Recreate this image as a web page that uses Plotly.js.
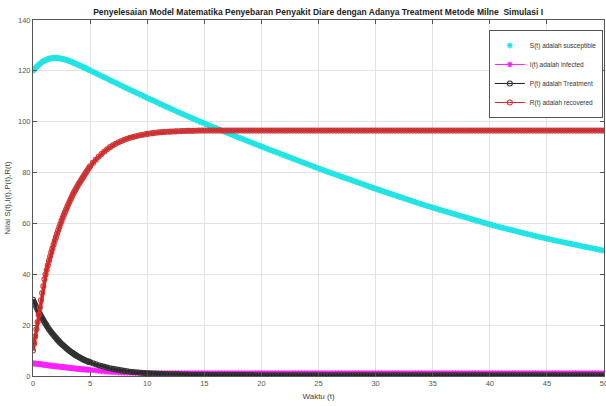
<!DOCTYPE html>
<html><head><meta charset="utf-8">
<script src="https://cdn.plot.ly/plotly-3.0.1.min.js"></script>
<style>html,body{margin:0;padding:0;background:#fff}#chart{width:606px;height:406px}</style>
</head><body><div id="chart"></div>
<script>
// time: dense part 0..5 (step 0.1), then 5.25..50 (step 0.25)
var tA = [0,0.1,0.2,0.3,0.4,0.5,0.6,0.7,0.8,0.9,
  1,1.1,1.2,1.3,1.4,1.5,1.6,1.7,1.8,1.9,
  2,2.1,2.2,2.3,2.4,2.5,2.6,2.7,2.8,2.9,
  3,3.1,3.2,3.3,3.4,3.5,3.6,3.7,3.8,3.9,
  4,4.1,4.2,4.3,4.4,4.5,4.6,4.7,4.8,4.9,
  5];
var tB = [5.25,5.5,5.75,6,6.25,6.5,6.75,7,7.25,7.5,7.75,8,8.25,8.5,8.75,9,9.25,9.5,9.75,10,
  10.25,10.5,10.75,11,11.25,11.5,11.75,12,12.25,12.5,12.75,13,13.25,13.5,13.75,14,14.25,14.5,14.75,15,
  15.25,15.5,15.75,16,16.25,16.5,16.75,17,17.25,17.5,17.75,18,18.25,18.5,18.75,19,19.25,19.5,19.75,20,
  20.25,20.5,20.75,21,21.25,21.5,21.75,22,22.25,22.5,22.75,23,23.25,23.5,23.75,24,24.25,24.5,24.75,25,
  25.25,25.5,25.75,26,26.25,26.5,26.75,27,27.25,27.5,27.75,28,28.25,28.5,28.75,29,29.25,29.5,29.75,30,
  30.25,30.5,30.75,31,31.25,31.5,31.75,32,32.25,32.5,32.75,33,33.25,33.5,33.75,34,34.25,34.5,34.75,35,
  35.25,35.5,35.75,36,36.25,36.5,36.75,37,37.25,37.5,37.75,38,38.25,38.5,38.75,39,39.25,39.5,39.75,40,
  40.25,40.5,40.75,41,41.25,41.5,41.75,42,42.25,42.5,42.75,43,43.25,43.5,43.75,44,44.25,44.5,44.75,45,
  45.25,45.5,45.75,46,46.25,46.5,46.75,47,47.25,47.5,47.75,48,48.25,48.5,48.75,49,49.25,49.5,49.75,50];

var S_A = [120.0,120.6,121.1,121.6,122.0,122.4,122.8,123.1,123.5,123.8,
  124.0,124.2,124.4,124.6,124.8,124.9,125.0,125.0,125.1,125.1,
  125.1,125.1,125.0,125.0,124.9,124.8,124.7,124.6,124.5,124.3,
  124.2,124.0,123.8,123.7,123.5,123.3,123.1,122.9,122.7,122.5,
  122.3,122.1,121.9,121.7,121.5,121.3,121.1,120.9,120.6,120.4,
  120.2];
var S_B = [119.65,119.1,118.55,118.0,117.45,116.9,116.35,115.8,115.25,114.7,114.15,113.6,113.05,112.5,111.95,111.4,110.9,110.4,109.85,109.3,
  108.8,108.3,107.75,107.2,106.7,106.2,105.7,105.2,104.7,104.2,103.7,103.2,102.7,102.2,101.7,101.2,100.7,100.2,99.75,99.3,
  98.8,98.3,97.85,97.4,96.95,96.5,96.05,95.6,95.15,94.7,94.25,93.8,93.35,92.9,92.45,92.0,91.55,91.1,90.65,90.2,
  89.75,89.3,88.85,88.4,88.0,87.6,87.15,86.7,86.3,85.9,85.45,85.0,84.6,84.2,83.75,83.3,82.9,82.5,82.05,81.6,
  81.2,80.8,80.4,80.0,79.6,79.2,78.8,78.4,78.0,77.6,77.2,76.8,76.4,76.0,75.6,75.2,74.75,74.3,73.9,73.5,
  73.15,72.8,72.4,72.0,71.65,71.3,70.9,70.5,70.15,69.8,69.45,69.1,68.7,68.3,67.95,67.6,67.25,66.9,66.55,66.2,
  65.85,65.5,65.15,64.8,64.5,64.2,63.85,63.5,63.15,62.8,62.5,62.2,61.85,61.5,61.2,60.9,60.55,60.2,59.9,59.6,
  59.3,59.0,58.7,58.4,58.1,57.8,57.55,57.3,57.0,56.7,56.4,56.1,55.85,55.6,55.3,55.0,54.75,54.5,54.25,54.0,
  53.75,53.5,53.25,53.0,52.75,52.5,52.25,52.0,51.8,51.6,51.35,51.1,50.85,50.6,50.4,50.2,49.95,49.7,49.5,49.3];

var I_A = [5.0,4.94,4.88,4.82,4.76,4.7,4.64,4.58,4.52,4.46,
  4.4,4.34,4.28,4.22,4.16,4.1,4.04,3.98,3.92,3.86,
  3.8,3.75,3.7,3.65,3.6,3.55,3.5,3.45,3.4,3.35,
  3.3,3.25,3.2,3.15,3.1,3.05,3.0,2.95,2.9,2.85,
  2.8,2.76,2.72,2.68,2.64,2.6,2.56,2.52,2.48,2.44,
  2.4];
var I_B = [2.28,2.15,2.03,1.9,1.8,1.7,1.6,1.5,1.45,1.4,1.35,1.3,1.28,1.25,1.22,1.2,1.18,1.15,1.12,1.1,
  1.1,1.1,1.1,1.1,1.1,1.1,1.1,1.1,1.1,1.1,1.1,1.1,1.1,1.1,1.1,1.1,1.1,1.1,1.1,1.1,
  1.1,1.1,1.1,1.1,1.1,1.1,1.1,1.1,1.1,1.1,1.1,1.1,1.1,1.1,1.1,1.1,1.1,1.1,1.1,1.1,
  1.1,1.1,1.1,1.1,1.1,1.1,1.1,1.1,1.1,1.1,1.1,1.1,1.1,1.1,1.1,1.1,1.1,1.1,1.1,1.1,
  1.1,1.1,1.1,1.1,1.1,1.1,1.1,1.1,1.1,1.1,1.1,1.1,1.1,1.1,1.1,1.1,1.1,1.1,1.1,1.1,
  1.1,1.1,1.1,1.1,1.1,1.1,1.1,1.1,1.1,1.1,1.1,1.1,1.1,1.1,1.1,1.1,1.1,1.1,1.1,1.1,
  1.1,1.1,1.1,1.1,1.1,1.1,1.1,1.1,1.1,1.1,1.1,1.1,1.1,1.1,1.1,1.1,1.1,1.1,1.1,1.1,
  1.1,1.1,1.1,1.1,1.1,1.1,1.1,1.1,1.1,1.1,1.1,1.1,1.1,1.1,1.1,1.1,1.1,1.1,1.1,1.1,
  1.1,1.1,1.1,1.1,1.1,1.1,1.1,1.1,1.1,1.1,1.1,1.1,1.1,1.1,1.1,1.1,1.1,1.1,1.1,1.1];

var P_A = [30.0,29.0,28.0,27.0,26.1,25.2,24.4,23.6,22.8,22.0,
  21.2,20.5,19.8,19.1,18.4,17.8,17.2,16.6,16.1,15.5,
  15.0,14.5,14.0,13.5,13.1,12.6,12.2,11.8,11.4,11.0,
  10.6,10.25,9.9,9.55,9.2,8.9,8.6,8.3,8.0,7.75,
  7.5,7.25,7.0,6.75,6.5,6.3,6.1,5.9,5.75,5.55,
  5.4];
var P_B = [5.0,4.6,4.25,3.9,3.6,3.3,3.05,2.8,2.6,2.4,2.2,2.0,1.85,1.7,1.6,1.5,1.4,1.3,1.2,1.1,
  1.05,1.0,0.95,0.9,0.85,0.8,0.75,0.7,0.68,0.65,0.62,0.6,0.58,0.55,0.52,0.5,0.48,0.47,0.46,0.45,
  0.44,0.42,0.41,0.4,0.39,0.38,0.38,0.37,0.37,0.36,0.36,0.35,0.35,0.34,0.34,0.33,0.33,0.32,0.32,0.31,
  0.31,0.3,0.3,0.3,0.3,0.3,0.3,0.3,0.3,0.3,0.3,0.3,0.3,0.3,0.3,0.3,0.3,0.3,0.3,0.3,
  0.3,0.3,0.3,0.3,0.3,0.3,0.3,0.3,0.3,0.3,0.3,0.3,0.3,0.3,0.3,0.3,0.3,0.3,0.3,0.3,
  0.3,0.3,0.3,0.3,0.3,0.3,0.3,0.3,0.3,0.3,0.3,0.3,0.3,0.3,0.3,0.3,0.3,0.3,0.3,0.3,
  0.3,0.3,0.3,0.3,0.3,0.3,0.3,0.3,0.3,0.3,0.3,0.3,0.3,0.3,0.3,0.3,0.3,0.3,0.3,0.3,
  0.3,0.3,0.3,0.3,0.3,0.3,0.3,0.3,0.3,0.3,0.3,0.3,0.3,0.3,0.3,0.3,0.3,0.3,0.3,0.3,
  0.3,0.3,0.3,0.3,0.3,0.3,0.3,0.3,0.3,0.3,0.3,0.3,0.3,0.3,0.3,0.3,0.3,0.3,0.3,0.3];

var R_A = [10.0,12.8,15.6,18.4,21.2,24.0,26.9,29.8,32.6,35.3,
  38.0,39.9,41.7,43.5,45.3,47.0,48.6,50.1,51.6,53.1,
  54.5,55.9,57.2,58.5,59.8,61.0,62.2,63.3,64.4,65.5,
  66.5,67.5,68.5,69.5,70.5,71.5,72.3,73.1,73.9,74.7,
  75.5,76.2,76.9,77.6,78.3,79.0,79.7,80.4,81.1,81.8,
  82.5];
var R_B = [83.8,85.0,86.2,87.3,88.3,89.2,90.0,90.7,91.3,91.9,92.4,92.9,93.3,93.7,94.0,94.3,94.55,94.8,95.0,95.2,
  95.35,95.5,95.65,95.8,95.9,96.0,96.05,96.1,96.15,96.2,96.25,96.3,96.35,96.4,96.4,96.4,96.45,96.5,96.5,96.5,
  96.5,96.5,96.5,96.5,96.5,96.5,96.5,96.5,96.5,96.5,96.5,96.5,96.5,96.5,96.5,96.5,96.5,96.5,96.5,96.5,
  96.5,96.5,96.5,96.5,96.5,96.5,96.5,96.5,96.5,96.5,96.5,96.5,96.5,96.5,96.5,96.5,96.5,96.5,96.5,96.5,
  96.5,96.5,96.5,96.5,96.5,96.5,96.5,96.5,96.5,96.5,96.5,96.5,96.5,96.5,96.5,96.5,96.5,96.5,96.5,96.5,
  96.5,96.5,96.5,96.5,96.5,96.5,96.5,96.5,96.5,96.5,96.5,96.5,96.5,96.5,96.5,96.5,96.5,96.5,96.5,96.5,
  96.5,96.5,96.5,96.5,96.5,96.5,96.5,96.5,96.5,96.5,96.5,96.5,96.5,96.5,96.5,96.5,96.5,96.5,96.5,96.5,
  96.5,96.5,96.5,96.5,96.5,96.5,96.5,96.5,96.5,96.5,96.5,96.5,96.5,96.5,96.5,96.5,96.5,96.5,96.5,96.5,
  96.5,96.5,96.5,96.5,96.5,96.5,96.5,96.5,96.5,96.5,96.5,96.5,96.5,96.5,96.5,96.5,96.5,96.5,96.5,96.5];

var names = ['S(t) adalah susceptible','I(t) adalah infected','P(t) adalah Treatment','R(t) adalah recovered'];
var xTicks = [0,5,10,15,20,25,30,35,40,45,50];
var yTicks = [0,20,40,60,80,100,120,140];

var t = tA.concat(tB), S = S_A.concat(S_B), I = I_A.concat(I_B), P = P_A.concat(P_B), R = R_A.concat(R_B);

var cyan = '#22e4e4', mag = '#ff20ff', blk = '#1c1c1c', red = '#e31b1b';
function band(y, c, w){ return {x:t, y:y, mode:'lines', line:{color:c, width:w}, showlegend:false, hoverinfo:'skip'}; }
var traces = [
  band(S, cyan, 5),
  {x:t, y:S, name:names[0], mode:'markers', marker:{symbol:'asterisk-open', size:5, color:cyan, line:{color:cyan, width:1.3}}},
  band(I, mag, 3.5),
  {x:t, y:I, name:names[1], mode:'lines+markers', line:{color:mag, width:1}, marker:{symbol:'asterisk-open', size:5, color:mag, line:{color:mag, width:1.3}}},
  band(P, blk, 3),
  {x:t, y:P, name:names[2], mode:'lines+markers', line:{color:blk, width:1}, marker:{symbol:'circle-open', size:5, color:'#333', line:{color:'#333', width:1.1}}},
  band(R, red, 3.5),
  {x:t, y:R, name:names[3], mode:'lines+markers', line:{color:red, width:1}, marker:{symbol:'circle-open', size:5, color:'#c83838', line:{color:'#c83838', width:1.1}}}
];
var fontFam = '"Liberation Sans", Arial, sans-serif';
var axisCommon = {ticks:'inside', ticklen:4, tickcolor:'#555', showline:true, linecolor:'#555', linewidth:1, mirror:'ticks', showgrid:true, gridcolor:'#e3e3e3', zeroline:false, tickfont:{size:7.5, color:'#555'}, automargin:false, ticklabeloverflow:'allow'};
var layout = {
  width:606, height:406,
  margin:{l:33, r:2, t:20, b:30, pad:0},
  paper_bgcolor:'#fff', plot_bgcolor:'#fff',
  font:{family:fontFam, size:7.5, color:'#4d4d4d'},
  title:{text:'<b>Penyelesaian Model Matematika Penyebaran Penyakit Diare dengan Adanya Treatment Metode Milne  Simulasi I</b>', font:{family:fontFam, size:8.5, color:'#222'}, x:0.525, xanchor:'center', y:0.977, yanchor:'top'},
  xaxis:Object.assign({range:[0,50], tickvals:xTicks, ticktext:xTicks.map(String), title:{text:'Waktu (t)', font:{size:8, color:'#444'}, standoff:6}}, axisCommon),
  yaxis:Object.assign({range:[0,140], tickvals:yTicks, ticktext:yTicks.map(String), title:{text:'Nilai S(t),I(t),P(t),R(t)', font:{size:8, color:'#444'}, standoff:6}}, axisCommon),
  legend:{x:0.998, xanchor:'right', y:0.972, yanchor:'top', bgcolor:'#fff', bordercolor:'#555', borderwidth:1, font:{size:6.5, color:'#333'}, itemwidth:30, tracegroupgap:0},
  showlegend:true
};
Plotly.newPlot('chart', traces, layout, {staticPlot:true, displayModeBar:false});
</script></body></html>
